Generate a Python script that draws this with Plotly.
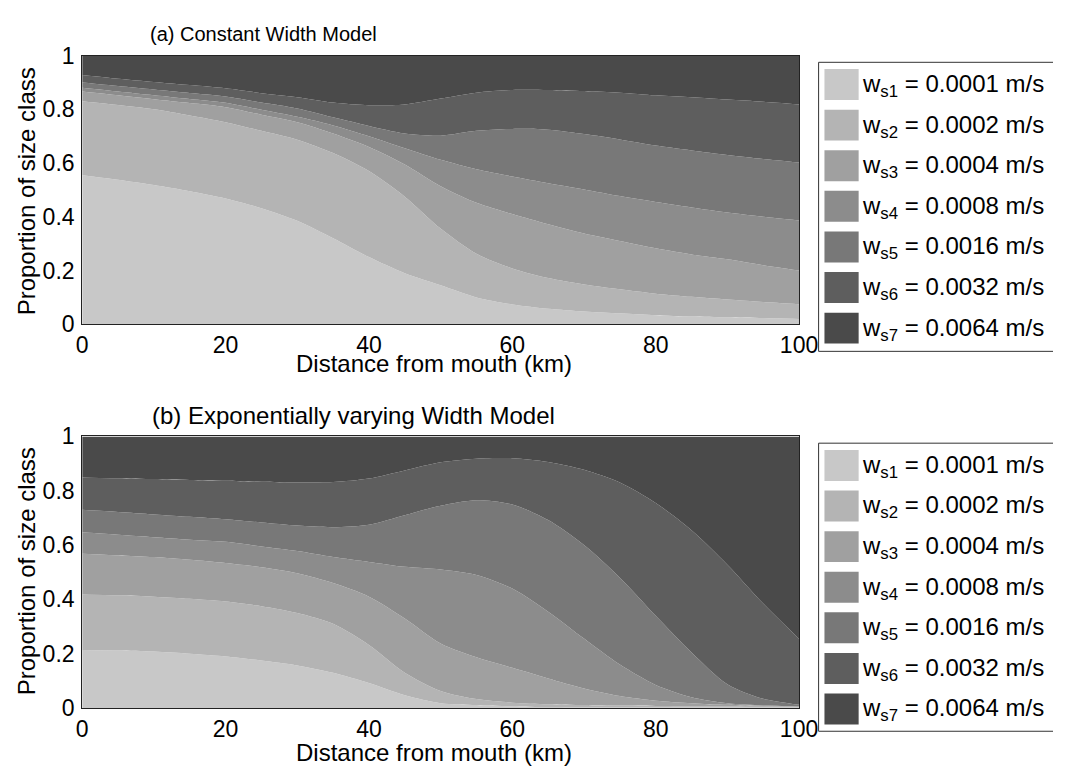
import plotly.graph_objects as go

W, H = 1072, 781

# ---------------- data ----------------
distance_km = [0, 5, 10, 15, 20, 25, 30, 35, 40, 45, 50,
               55, 60, 65, 70, 75, 80, 85, 90, 95, 100]

class_labels = [
    "w<sub>s1</sub> = 0.0001 m/s",
    "w<sub>s2</sub> = 0.0002 m/s",
    "w<sub>s3</sub> = 0.0004 m/s",
    "w<sub>s4</sub> = 0.0008 m/s",
    "w<sub>s5</sub> = 0.0016 m/s",
    "w<sub>s6</sub> = 0.0032 m/s",
    "w<sub>s7</sub> = 0.0064 m/s",
]
class_colors = ["#c8c8c8", "#b4b4b4", "#a0a0a0", "#8c8c8c",
                "#787878", "#5e5e5e", "#4a4a4a"]

x_ticks = [0, 20, 40, 60, 80, 100]
y_ticks = [0, 0.2, 0.4, 0.6, 0.8, 1]
y_ticktext = ["0", "0.2", "0.4", "0.6", "0.8", "1"]

# (a) Constant Width Model: cumulative proportion (upper edge of classes 1..6)
a_cum_ws1 = [0.555, 0.538, 0.518, 0.495, 0.468, 0.432, 0.385, 0.320, 0.250, 0.190, 0.145,
             0.100, 0.074, 0.058, 0.048, 0.041, 0.034, 0.029, 0.026, 0.023, 0.020]
a_cum_ws2 = [0.830, 0.816, 0.800, 0.777, 0.752, 0.720, 0.687, 0.637, 0.570, 0.475, 0.356,
             0.262, 0.208, 0.172, 0.148, 0.130, 0.114, 0.102, 0.092, 0.083, 0.075]
a_cum_ws3 = [0.866, 0.852, 0.837, 0.823, 0.808, 0.780, 0.752, 0.710, 0.660, 0.595, 0.514,
             0.452, 0.410, 0.372, 0.338, 0.310, 0.283, 0.260, 0.242, 0.220, 0.200]
a_cum_ws4 = [0.880, 0.866, 0.852, 0.838, 0.824, 0.798, 0.772, 0.740, 0.700, 0.655, 0.612,
             0.577, 0.550, 0.525, 0.502, 0.477, 0.455, 0.435, 0.416, 0.400, 0.386]
a_cum_ws5 = [0.900, 0.887, 0.874, 0.861, 0.848, 0.825, 0.803, 0.770, 0.738, 0.710, 0.702,
             0.720, 0.727, 0.724, 0.708, 0.688, 0.665, 0.647, 0.630, 0.615, 0.602]
a_cum_ws6 = [0.928, 0.914, 0.902, 0.890, 0.878, 0.860, 0.845, 0.825, 0.815, 0.818, 0.840,
             0.862, 0.872, 0.872, 0.868, 0.862, 0.852, 0.845, 0.836, 0.828, 0.818]
a_cum_ws7 = [1.0] * len(distance_km)

# (b) Exponentially varying Width Model
b_cum_ws1 = [0.214, 0.212, 0.208, 0.200, 0.190, 0.175, 0.157, 0.130, 0.092, 0.047, 0.018,
             0.011, 0.006, 0.004, 0.003, 0.002, 0.002, 0.002, 0.002, 0.002, 0.002]
b_cum_ws2 = [0.418, 0.415, 0.410, 0.402, 0.392, 0.375, 0.350, 0.310, 0.232, 0.130, 0.063,
             0.033, 0.020, 0.014, 0.011, 0.009, 0.008, 0.007, 0.006, 0.005, 0.005]
b_cum_ws3 = [0.568, 0.562, 0.556, 0.546, 0.534, 0.518, 0.496, 0.460, 0.410, 0.330, 0.238,
             0.187, 0.148, 0.109, 0.072, 0.044, 0.027, 0.018, 0.012, 0.008, 0.006]
b_cum_ws4 = [0.647, 0.638, 0.629, 0.620, 0.612, 0.595, 0.578, 0.556, 0.538, 0.520, 0.510,
             0.490, 0.440, 0.355, 0.256, 0.160, 0.085, 0.040, 0.018, 0.010, 0.006]
b_cum_ws5 = [0.730, 0.722, 0.713, 0.704, 0.695, 0.683, 0.672, 0.666, 0.675, 0.710, 0.745,
             0.765, 0.749, 0.692, 0.600, 0.480, 0.340, 0.205, 0.088, 0.034, 0.012]
b_cum_ws6 = [0.849, 0.846, 0.843, 0.840, 0.837, 0.833, 0.830, 0.832, 0.845, 0.875, 0.905,
             0.918, 0.920, 0.906, 0.877, 0.830, 0.755, 0.655, 0.528, 0.385, 0.255]
b_cum_ws7 = [1.0] * len(distance_km)

panel_a = [a_cum_ws1, a_cum_ws2, a_cum_ws3, a_cum_ws4, a_cum_ws5, a_cum_ws6, a_cum_ws7]
panel_b = [b_cum_ws1, b_cum_ws2, b_cum_ws3, b_cum_ws4, b_cum_ws5, b_cum_ws6, b_cum_ws7]

# ---------------- figure ----------------
fig = go.Figure()

for panel, (xa, ya) in ((panel_a, ("x", "y")), (panel_b, ("x2", "y2"))):
    for i, ys in enumerate(panel):
        fig.add_trace(go.Scatter(
            x=distance_km, y=ys, xaxis=xa, yaxis=ya,
            mode="lines", line=dict(width=0, shape="spline", smoothing=0.8),
            fill="tozeroy" if i == 0 else "tonexty",
            fillcolor=class_colors[i], name=class_labels[i],
            showlegend=False, hoverinfo="skip",
        ))


def px_x(p):
    return p / W


def px_y(p):
    return 1 - p / H


FONT = "Liberation Sans, Arial, sans-serif"

axis_common = dict(
    showgrid=False, zeroline=False, showline=True, linecolor="#222222",
    linewidth=1, mirror=True, ticks="", tickfont=dict(family=FONT, size=23, color="black"),
)

plot_left, plot_right = 78, 812
a_top, a_bot = 44, 322
b_top, b_bot = 438, 719

fig.update_layout(
    width=W, height=H,
    margin=dict(l=0, r=0, t=0, b=0),
    paper_bgcolor="white", plot_bgcolor="white",
    xaxis=dict(domain=[px_x(plot_left), px_x(plot_right)], range=[0, 100], anchor="y",
               tickvals=x_ticks, ticklabelstandoff=0, **axis_common),
    yaxis=dict(domain=[px_y(a_bot), px_y(a_top)], range=[0, 1], anchor="x",
               tickvals=y_ticks, ticktext=y_ticktext, ticklabelstandoff=2, **axis_common),
    xaxis2=dict(domain=[px_x(plot_left), px_x(plot_right)], range=[0, 100], anchor="y2",
                tickvals=x_ticks, ticklabelstandoff=0, **axis_common),
    yaxis2=dict(domain=[px_y(b_bot), px_y(b_top)], range=[0, 1], anchor="x2",
                tickvals=y_ticks, ticktext=y_ticktext, ticklabelstandoff=2, **axis_common),
)

annotations = []
shapes = []

# titles
annotations.append(dict(text="(a) Constant Width Model", x=px_x(145), y=px_y(22),
                        xref="paper", yref="paper", xanchor="left", yanchor="middle",
                        showarrow=False,
                        font=dict(family=FONT, size=20, color="black")))
annotations.append(dict(text="(b) Exponentially varying Width Model", x=px_x(147), y=px_y(416),
                        xref="paper", yref="paper", xanchor="left", yanchor="middle",
                        showarrow=False, font=dict(family=FONT, size=24, color="black")))

# axis labels
for yc_x, yc_y in ((363, 185), (765, 578)):
    annotations.append(dict(text="Distance from mouth (km)", x=px_x(438), y=px_y(yc_x),
                            xref="paper", yref="paper", xanchor="center", yanchor="middle",
                            showarrow=False, font=dict(family=FONT, size=24, color="black")))
    annotations.append(dict(text="Proportion of size class", x=px_x(21), y=px_y(yc_y),
                            xref="paper", yref="paper", xanchor="center", yanchor="middle",
                            textangle=-90, showarrow=False,
                            font=dict(family=FONT, size=24, color="black")))

# legends (drawn manually to reproduce the large square swatches);
# the box runs off the right edge of the canvas, so only top/left/bottom edges are drawn
for box_top, box_bot in ((51, 350), (445, 743)):
    shapes.append(dict(type="rect", xref="paper", yref="paper",
                       x0=px_x(832), x1=1.0, y0=px_y(box_bot), y1=px_y(box_top),
                       line=dict(width=0), fillcolor="white", layer="above"))
    for (xa0, ya0, xa1, ya1) in ((832, box_top, W, box_top),
                                 (832, box_top, 832, box_bot),
                                 (832, box_bot, W, box_bot)):
        shapes.append(dict(type="line", xref="paper", yref="paper",
                           x0=px_x(xa0), y0=px_y(ya0), x1=px_x(xa1), y1=px_y(ya1),
                           line=dict(color="#333333", width=1), layer="above"))
    for i, lab in enumerate(class_labels):
        top = box_top + 7 + 42 * i
        shapes.append(dict(type="rect", xref="paper", yref="paper",
                           x0=px_x(838), x1=px_x(873), y0=px_y(top + 32), y1=px_y(top),
                           line=dict(width=0), fillcolor=class_colors[i], layer="above"))
        annotations.append(dict(text=lab, x=px_x(874), y=px_y(top + 17),
                                xref="paper", yref="paper", xanchor="left", yanchor="middle",
                                showarrow=False,
                                font=dict(family=FONT, size=24, color="black")))

fig.update_layout(annotations=annotations, shapes=shapes)

fig.write_html("out.html")
